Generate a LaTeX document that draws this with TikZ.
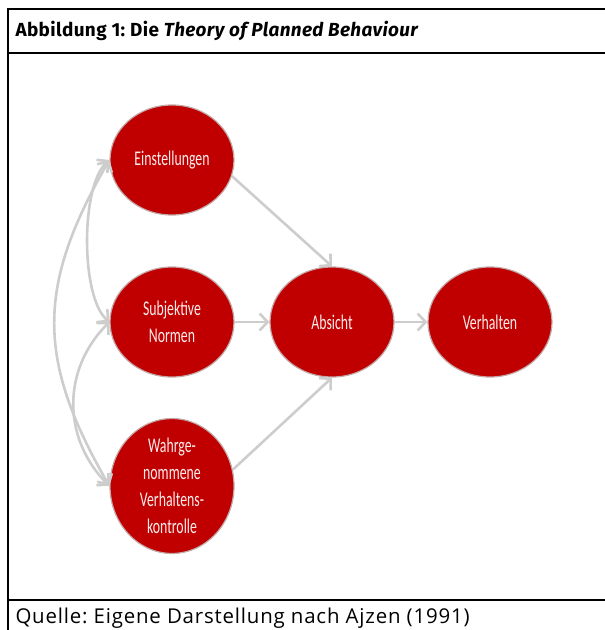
\documentclass[tikz,border=0pt]{standalone}
\usepackage{fontspec}
\setmainfont{Open Sans}
\newfontfamily\nodefont[FakeStretch=0.66]{Carlito}
\newfontfamily\titlefont[LetterSpace=2]{Fira Sans}
\newfontfamily\sourcefont[LetterSpace=4]{Open Sans}
\usetikzlibrary{shapes.geometric,arrows.meta}
\frenchspacing

\definecolor{tpbred}{HTML}{C00000}
\definecolor{tpbgray}{HTML}{CDCDCD}
\definecolor{tpbrim}{HTML}{C4A8A8}
\definecolor{tpbtext}{HTML}{FBECEC}

\tikzset{
  construct/.style={ellipse, fill=tpbred, draw=tpbrim, line width=1.2bp,
    minimum width=124bp, minimum height=110bp, inner sep=0pt, text=tpbtext,
    align=center, font=\nodefont\fontsize{21}{27}\selectfont},
  link/.style={draw=tpbgray, line width=2.6bp,
    -{Straight Barb[length=8bp,width=17bp]}},
  twoway/.style={link, {Straight Barb[length=8bp,width=17bp]}-{Straight Barb[length=8bp,width=17bp]}},
  frame/.style={line width=2.4bp, black},
}

\begin{document}
\begin{tikzpicture}[x=1bp, y=-1bp]
\useasboundingbox (0,0) rectangle (605,630);

% frame of the figure box
\draw[frame] (8,630) -- (8,9) -- (605,9);
\draw[frame] (8,53) -- (605,53);
\draw[frame] (8,600) -- (605,600);

\node[anchor=west, font=\titlefont\bfseries\fontsize{19}{22}\selectfont] (title) at (12,31)
  {Abbildung 1: Die \textit{Theory of Planned Behaviour}};
\node[anchor=west, font=\sourcefont\fontsize{20.5}{23}\selectfont] (source) at (12,618)
  {Quelle: Eigene Darstellung nach Ajzen (1991)};

% constructs
\node[construct] (einst) at (172,160) {Einstellungen};
\node[construct] (subj)  at (172,322) {Subjektive\\Normen};
\node[construct] (wahr)  at (172,486) {Wahrge-\\nommene\\Verhaltens-\\kontrolle};
\node[construct] (absicht) at (332,322) {Absicht};
\node[construct] (verh)  at (490,322) {Verhalten};

% paths
\draw[link] (einst.-15) -- (absicht.north);
\draw[link] (subj.east) -- (absicht.west);
\draw[link] (wahr.15) -- (absicht.south);
\draw[link] (absicht.east) -- (verh.west);

% correlations on the left
\draw[twoway] (einst.west) to[out=220, in=140, looseness=0.6] (subj.west);
\draw[twoway] (subj.west) to[out=225, in=135, looseness=1.05] (wahr.west);
\draw[twoway] (einst.west) to[out=240, in=120, looseness=1.15] (wahr.west);

\end{tikzpicture}
\end{document}
